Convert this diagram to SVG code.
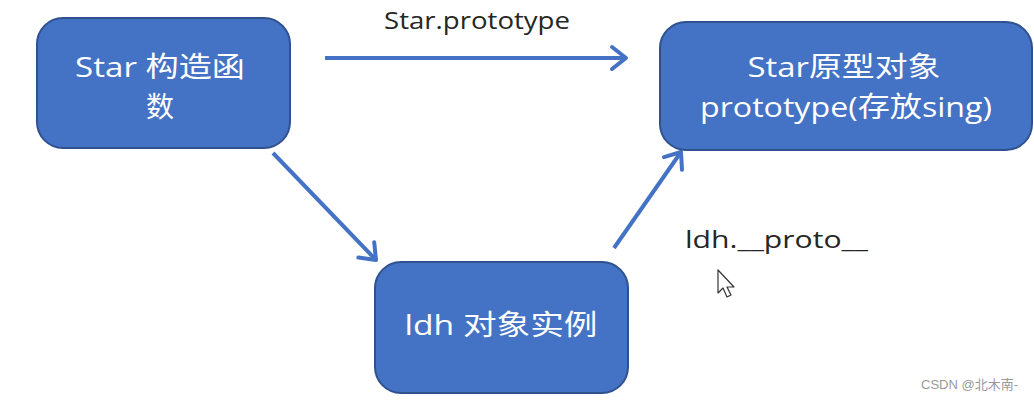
<svg xmlns="http://www.w3.org/2000/svg" width="1034" height="400" viewBox="0 0 1034 400">
<style>
.node rect{fill:#4472C4;stroke:#2F528F;stroke-width:2}
.node text{fill:#fff;font-family:"Open Sans","Noto Sans CJK SC",sans-serif;font-size:28px;text-anchor:middle}
.edge{stroke:#4472C4;stroke-width:4;fill:none;marker-end:url(#arr)}
.lbl{fill:#262626;font-family:"Open Sans","Noto Sans CJK SC",sans-serif;font-size:23px}
</style>
<defs>
<marker id="arr" markerUnits="userSpaceOnUse" markerWidth="30" markerHeight="30" viewBox="-20 -15 30 30" refX="0" refY="0" orient="auto">
<path d="M-14,-11 L0,0 L-14,11" fill="none" stroke="#4472C4" stroke-width="4" stroke-linecap="round" stroke-linejoin="round"/>
</marker>
</defs>
<rect width="1034" height="400" fill="#fff"/>
<g id="connectors">
<line class="edge" x1="325" y1="58" x2="626" y2="58"/>
<line class="edge" x1="273" y1="153" x2="376" y2="260"/>
<line class="edge" x1="614" y1="248" x2="681" y2="152"/>
<text class="lbl" x="384" y="29" textLength="186" lengthAdjust="spacingAndGlyphs">Star.prototype</text>
<text class="lbl" x="685" y="248" textLength="183" lengthAdjust="spacingAndGlyphs">ldh.__proto__</text>
</g>
<g id="node-star" class="node">
<rect x="37" y="18" width="253" height="130" rx="26"/>
<text x="160" y="77" textLength="170" lengthAdjust="spacingAndGlyphs">Star 构造函</text>
<text x="160" y="117">数</text>
</g>
<g id="node-prototype" class="node">
<rect x="660" y="22" width="372" height="128" rx="26"/>
<text x="844" y="77" textLength="193" lengthAdjust="spacingAndGlyphs">Star原型对象</text>
<text x="846" y="117" textLength="292" lengthAdjust="spacingAndGlyphs">prototype(存放sing)</text>
</g>
<g id="node-ldh" class="node">
<rect x="375" y="262" width="253" height="131" rx="26"/>
<text x="501" y="335" textLength="193" lengthAdjust="spacingAndGlyphs">ldh 对象实例</text>
</g>
<path d="M718,270 L718,293 L723,288 L727,297 L731,295 L727,287 L734,287 Z" fill="#fff" stroke="#333" stroke-width="1.2" stroke-linejoin="round"/>
<text x="1018" y="389" text-anchor="end" font-family="'Liberation Sans','Noto Sans CJK SC',sans-serif" font-size="13" fill="#999">CSDN @北木南-</text>
</svg>
